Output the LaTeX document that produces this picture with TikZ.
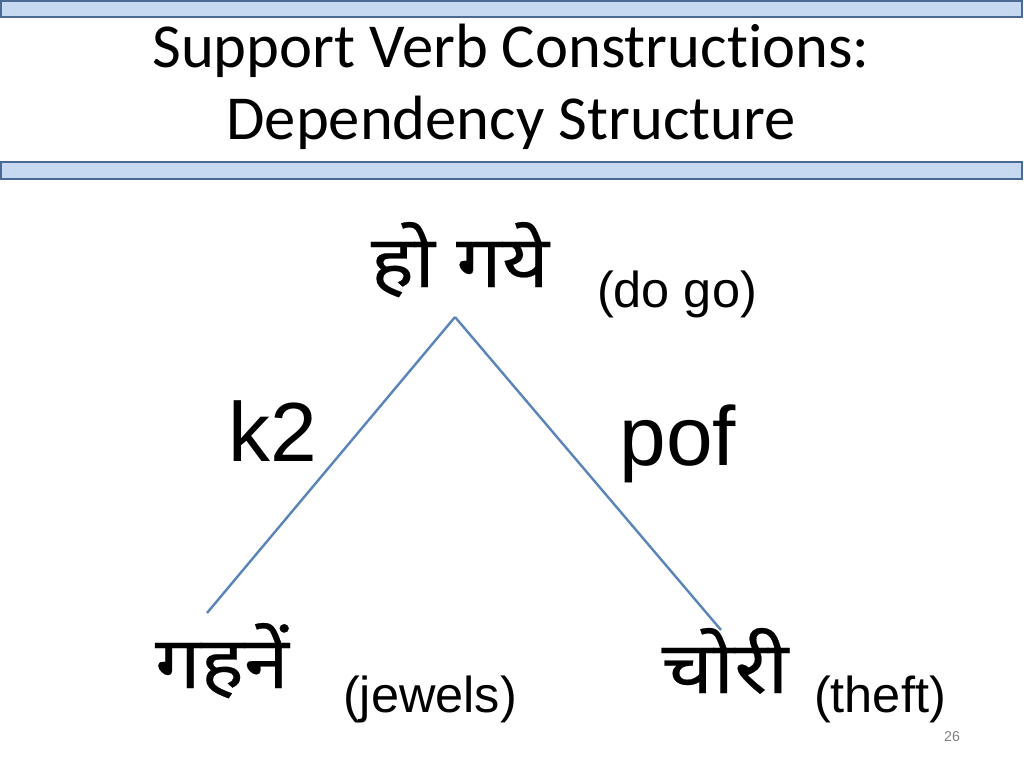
\documentclass[tikz,border=0pt]{standalone}
\usepackage{fontspec}
\setmainfont{Liberation Sans}
\newfontfamily\titlefont[Ligatures=NoCommon]{Carlito}
\newfontfamily\deva[Script=Devanagari,FakeStretch=1.12,FakeBold=0.3]{Noto Sans}
\definecolor{barfill}{HTML}{C6D9F1}
\definecolor{bardraw}{HTML}{4A6A94}
\definecolor{edgecol}{HTML}{5B84B8}
\tikzset{
  bar/.style={fill=barfill, draw=bardraw, line width=1.6pt},
  ttl/.style={font=\titlefont\fontsize{44}{52}\selectfont, anchor=base, inner sep=0pt},
  hin/.style={font=\deva\fontsize{51}{58}\selectfont, anchor=base, inner sep=0pt},
  gloss/.style={font=\fontsize{35.5}{42}\selectfont, anchor=base, inner sep=0pt},
  rel/.style={font=\fontsize{59}{66}\selectfont, anchor=base, inner sep=0pt},
  edge/.style={draw=edgecol, line width=1.7pt},
}
\begin{document}
\begin{tikzpicture}[x=0.703125pt, y=-0.703125pt]
\useasboundingbox (0,0) rectangle (1024,768);
\fill[white] (0,0) rectangle (1024,768);
\draw[bar] (1,1) rectangle (1022,17);
\draw[bar] (1,162) rectangle (1022,179);
\node[ttl] (t1) at (511,68) {Support Verb Constructions:};
\node[ttl] (t2) at (511,140) {Dependency Structure};
\node[hin] (hogaye) at (460,287) {हो गये};
\node[gloss] (dogo) at (677,307) {(do go)};
\node[rel] (k2) at (273,461) {k2};
\node[rel] (pof) at (678,465) {pof};
\node[hin] (gahane) at (222,688) {गहनें};
\node[gloss] (jewels) at (430,712) {(jewels)};
\node[hin] (chori) at (725,693) {चोरी};
\node[gloss] (theft) at (880,712) {(theft)};
\node[font=\fontsize{10}{12}\selectfont, text=gray, anchor=base, inner sep=0pt] (pg) at (952,741) {26};
\coordinate (apex) at (455,317);
\coordinate (leftend) at (207,613);
\coordinate (rightend) at (721,630);
\draw[edge] (apex) -- (leftend);
\draw[edge] (apex) -- (rightend);
\end{tikzpicture}
\end{document}
